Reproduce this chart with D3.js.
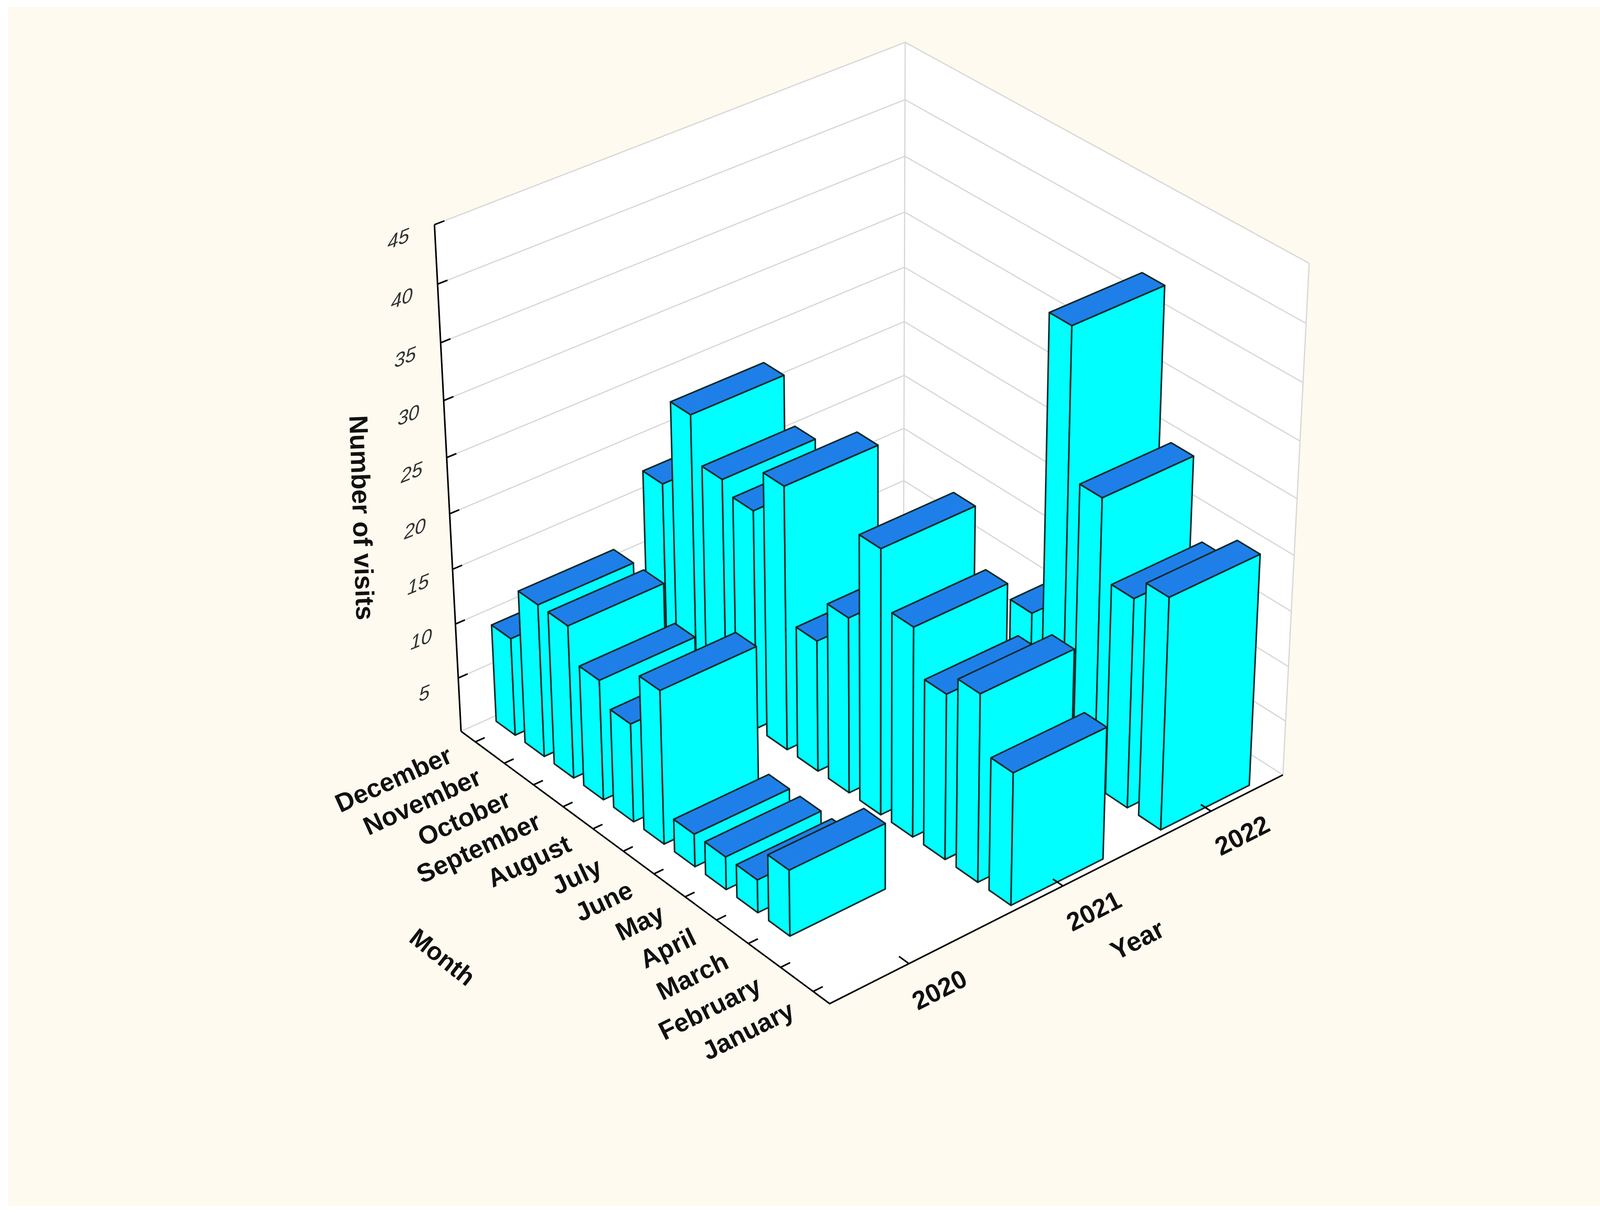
<!DOCTYPE html>
<html>
<head>
<meta charset="utf-8">
<title>Number of visits by month and year</title>
<script src="https://cdn.jsdelivr.net/npm/d3@7/dist/d3.min.js"></script>
<style>
  html, body { margin: 0; padding: 0; background: #fff; }
  svg { display: block; }
  .lbl { font-family: "Liberation Sans", Arial, sans-serif; font-weight: bold; fill: #111; }
  .val { font-family: "Liberation Sans", Arial, sans-serif; font-style: italic; fill: #333; }
</style>
</head>
<body>
<svg id="chart" width="4134" height="3109"></svg>
<script>

// ---- data ----
var months = ["January", "February", "March", "April", "May", "June",
              "July", "August", "September", "October", "November", "December"];
var years = [2020, 2021, 2022];
// null = no bar for that month
var visits2020 = [null, null, 6, 3, 3, 3, 14, 9, 11, 14, 14, 9];
var visits2021 = [12, 17, 15, 19, 24, 16, 12, 24, 20, 21, 25, 17];
var visits2022 = [21, 19, 26, 39, 12, null, null, null, null, null, null, null];
var valueTicks = [5, 10, 15, 20, 25, 30, 35, 40, 45];

// ---- camera: box corners and axis ticks of the unit cube (u = month, v = year, w = value) ----
var anchorWorld = [
  [0, 0, 0], [1, 0, 0], [0, 1, 0], [1, 1, 0], [1, 0, 1], [1, 1, 1], [0, 1, 1]
];
var anchorPixel = [
  [2120, 2573], [1177, 1874], [3287, 1988], [2311, 1369], [1113, 576], [2319, 112], [3350, 679]
];
var leftEdgeY  = [1735, 1598, 1457, 1314, 1170, 1027, 875, 728];
var backEdgeY  = [1232, 1094, 960, 821, 683, 545, 402, 255];
var rightEdgeY = [1846, 1706, 1563, 1422, 1274, 1127, 978, 830];
leftEdgeY.forEach(function(y, k) {
  var w = (k + 1) / 9;
  anchorWorld.push([1, 0, w]); anchorPixel.push([1177 - 64 * w, y]);
  anchorWorld.push([1, 1, w]); anchorPixel.push([2311 + 8 * w, backEdgeY[k]]);
  anchorWorld.push([0, 1, w]); anchorPixel.push([3287 + 63 * w, rightEdgeY[k]]);
});
var monthTickPixel = [[2081, 2540], [1998, 2479], [1919, 2415], [1841, 2355], [1758, 2294], [1675, 2240],
                      [1596, 2183], [1521, 2125], [1443, 2068], [1368, 2011], [1298, 1953], [1223, 1896]];
monthTickPixel.forEach(function(p, m) { anchorWorld.push([(m + 0.5) / 12, 0, 0]); anchorPixel.push(p); });
[[2319, 2469], [2712, 2270], [3095, 2073]].forEach(function(p, k) {
  anchorWorld.push([0, (k + 0.5) / 3, 0]); anchorPixel.push(p);
});

// least-squares pinhole camera (DLT) through the anchors
function fitCamera(world, pixel) {
  var A = [], b = [];
  world.forEach(function(p, k) {
    var X = p[0], Y = p[1], Z = p[2];
    var x = pixel[k][0] / 1000, y = pixel[k][1] / 1000;
    A.push([X, Y, Z, 1, 0, 0, 0, 0, -x * X, -x * Y, -x * Z]); b.push(x);
    A.push([0, 0, 0, 0, X, Y, Z, 1, -y * X, -y * Y, -y * Z]); b.push(y);
  });
  var n = 11, M = [], i, j, r;
  for (i = 0; i < n; i++) {
    M.push(new Array(n + 1).fill(0));
    for (j = 0; j < n; j++)
      for (r = 0; r < A.length; r++) M[i][j] += A[r][i] * A[r][j];
    for (r = 0; r < A.length; r++) M[i][n] += A[r][i] * b[r];
  }
  for (i = 0; i < n; i++) {
    var piv = i;
    for (r = i + 1; r < n; r++) if (Math.abs(M[r][i]) > Math.abs(M[piv][i])) piv = r;
    var t = M[i]; M[i] = M[piv]; M[piv] = t;
    for (r = 0; r < n; r++) {
      if (r === i) continue;
      var f = M[r][i] / M[i][i];
      for (j = i; j <= n; j++) M[r][j] -= f * M[i][j];
    }
  }
  return M.map(function(row, k) { return row[n] / row[k]; });
}

var P = fitCamera(anchorWorld, anchorPixel);

function project(p) {
  var d = P[8] * p[0] + P[9] * p[1] + P[10] * p[2] + 1;
  return [1000 * (P[0] * p[0] + P[1] * p[1] + P[2] * p[2] + P[3]) / d,
          1000 * (P[4] * p[0] + P[5] * p[1] + P[6] * p[2] + P[7]) / d];
}
function angleOf(a, b) {
  var pa = project(a), pb = project(b);
  return Math.atan2(pb[1] - pa[1], pb[0] - pa[0]) * 180 / Math.PI;
}

// ---- scales ----
var month = d3.scaleBand().domain(months).range([0, 1]).paddingInner(0.34).paddingOuter(0.17);
var year = d3.scaleBand().domain(years).range([0, 1]).paddingInner(0.39).paddingOuter(0.195);
var value = d3.scaleLinear().domain([0, 45]).range([0, 1]);

var line = d3.line();
function poly(pts) { return line(pts.map(project)) + "Z"; }

var svg = d3.select("#chart");

svg.append("rect").attr("x", 20).attr("y", 18).attr("width", 4092).attr("height", 3070)
  .attr("fill", "#fffaef");

// walls and floor
var walls = svg.append("g");
[[[1, 0, 0], [1, 1, 0], [1, 1, 1], [1, 0, 1]],
 [[1, 1, 0], [0, 1, 0], [0, 1, 1], [1, 1, 1]],
 [[0, 0, 0], [1, 0, 0], [1, 1, 0], [0, 1, 0]]].forEach(function(f) {
  walls.append("path").attr("d", poly(f)).attr("fill", "#fff");
});

var grid = svg.append("g").attr("fill", "none").attr("stroke", "#d6d6d6").attr("stroke-width", 3);
valueTicks.forEach(function(t) {
  var w = value(t);
  grid.append("path").attr("d", line([[1, 0, w], [1, 1, w], [0, 1, w]].map(project)));
});
grid.append("path").attr("d", line([[1, 0, 0], [1, 1, 0], [0, 1, 0]].map(project)));
grid.append("path").attr("d", line([[1, 1, 0], [1, 1, 1]].map(project)));
grid.append("path").attr("d", line([[0, 1, 0], [0, 1, 1]].map(project)));

// value axis
var axes = svg.append("g").attr("fill", "none").attr("stroke", "#000").attr("stroke-width", 4);
axes.append("path").attr("d", line([[1, 0, 0], [1, 0, 1]].map(project)));
valueTicks.forEach(function(t) {
  axes.append("path").attr("d", line([[1, 0, value(t)], [1, 0.02, value(t)]].map(project)));
});

svg.append("g").selectAll("text").data(valueTicks).join("text")
  .attr("class", "val")
  .attr("font-size", 50)
  .attr("text-anchor", "middle")
  .attr("dominant-baseline", "central")
  .attr("transform", function(t) {
    var p = project([1, -0.072, value(t)]);
    return "translate(" + p[0] + "," + p[1] + ") skewY(-22)";
  })
  .text(function(t) { return t; });

// bars, painted back to front
var series = [visits2020, visits2021, visits2022];
var bars = [];
years.forEach(function(y, yi) {
  months.forEach(function(m, mi) {
    var v = series[yi][mi];
    if (v != null) bars.push({ month: m, year: y, mi: mi, yi: yi, value: v });
  });
});
bars.sort(function(a, b) { return (b.mi + b.yi) - (a.mi + a.yi); });

var barG = svg.append("g").attr("stroke", "#0e2a2a").attr("stroke-width", 4).attr("stroke-linejoin", "round");
bars.forEach(function(d) {
  var u0 = month(d.month), u1 = u0 + month.bandwidth();
  var v0 = year(d.year), v1 = v0 + year.bandwidth();
  var h = value(d.value);
  var g = barG.append("g");
  g.append("path").attr("fill", "#00ffff")
    .attr("d", poly([[u0, v0, 0], [u1, v0, 0], [u1, v0, h], [u0, v0, h]]));
  g.append("path").attr("fill", "#00ffff")
    .attr("d", poly([[u0, v0, 0], [u0, v1, 0], [u0, v1, h], [u0, v0, h]]));
  g.append("path").attr("fill", "#1f7fe8")
    .attr("d", poly([[u0, v0, h], [u1, v0, h], [u1, v1, h], [u0, v1, h]]));
});

// floor axes
var floorAxes = svg.append("g").attr("fill", "none").attr("stroke", "#000").attr("stroke-width", 4);
floorAxes.append("path").attr("d", line([[1, 0, 0], [0, 0, 0], [0, 1, 0]].map(project)));
months.forEach(function(m) {
  var c = month(m) + month.bandwidth() / 2;
  floorAxes.append("path").attr("d", line([[c, 0, 0], [c, 0.02, 0]].map(project)));
});
years.forEach(function(y) {
  var c = year(y) + year.bandwidth() / 2;
  floorAxes.append("path").attr("d", line([[0, c, 0], [0.025, c, 0]].map(project)));
});

// month labels
svg.append("g").selectAll("text").data(months).join("text")
  .attr("class", "lbl")
  .attr("font-size", 66)
  .attr("text-anchor", "end")
  .attr("dominant-baseline", "central")
  .attr("transform", function(m) {
    var c = month(m) + month.bandwidth() / 2;
    var u = c - 0.013 * (1 - c);
    var p = project([u, -0.054, 0]);
    return "translate(" + p[0] + "," + p[1] + ") rotate(" + angleOf([u, -0.054, 0], [u, 0.3, 0]) + ")";
  })
  .text(function(m) { return m; });

// year labels
svg.append("g").selectAll("text").data(years).join("text")
  .attr("class", "lbl")
  .attr("font-size", 66)
  .attr("text-anchor", "middle")
  .attr("dominant-baseline", "central")
  .attr("transform", function(y) {
    var c = year(y) + year.bandwidth() / 2 - 0.007;
    var p = project([-0.084, c, 0]);
    return "translate(" + p[0] + "," + p[1] + ") rotate(" + angleOf([-0.084, c - 0.1, 0], [-0.084, c + 0.1, 0]) + ")";
  })
  .text(function(y) { return y; });

// axis titles
function title(text, pos, angle, size) {
  var p = project(pos);
  svg.append("text").attr("class", "lbl")
    .attr("font-size", size)
    .attr("text-anchor", "middle")
    .attr("dominant-baseline", "central")
    .attr("transform", "translate(" + p[0] + "," + p[1] + ") rotate(" + angle + ")")
    .text(text);
}
title("Month", [0.497, -0.406, 0], angleOf([1, -0.406, 0], [0, -0.406, 0]), 64);
title("Year", [-0.1875, 0.495, 0], angleOf([-0.1875, 0.4, 0], [-0.1875, 0.6, 0]), 68);
title("Number of visits", [1, -0.176, 0.508], 88, 67);

</script>
</body>
</html>
